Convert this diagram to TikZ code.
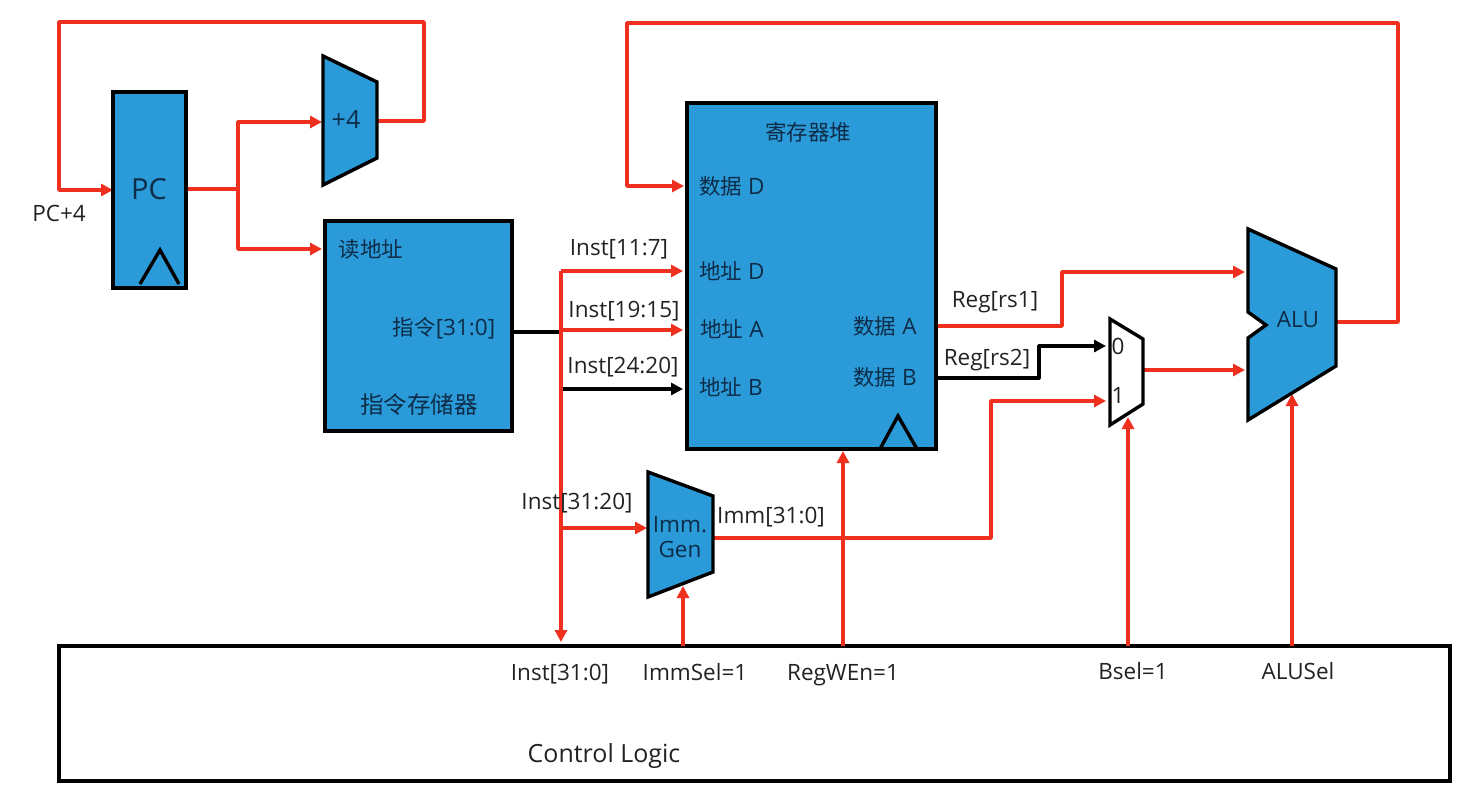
\documentclass[tikz,border=0pt]{standalone}
\usepackage{fontspec}
\setmainfont{Open Sans}
\newfontfamily\cjk{Noto Sans CJK SC}
\usetikzlibrary{arrows.meta}
\definecolor{blk}{HTML}{2A9BD8}
\definecolor{wire}{HTML}{F0301F}
\definecolor{ink}{HTML}{0E2C48}
\definecolor{lab}{HTML}{222222}
\newcommand{\zh}[1]{{\cjk\fontsize{21.5}{24}\selectfont #1}}
\tikzset{
  block/.style={draw=black,line width=3.4pt,fill=blk,inner sep=0pt,outer sep=0pt,anchor=north west},
  poly/.style={draw=black,line width=3.4pt,fill=blk,line join=miter},
  clock/.style={draw=black,line width=3.4pt,line join=miter},
  rw/.style={draw=wire,line width=3.5pt,line join=round},
  bw/.style={draw=black,line width=3.2pt,line join=round},
  tip/.style={-{Triangle[length=12pt,width=12pt]}},
  inner/.style={font=\fontsize{22.5}{26}\selectfont,text=ink,inner sep=0pt},
  outer/.style={font=\fontsize{22.5}{26}\selectfont,text=lab,inner sep=0pt},
}
\begin{document}
\begin{tikzpicture}[x=1pt,y=-1pt]
\useasboundingbox (0,0) rectangle (1478,807);
% control logic
\node[block,fill=white,minimum width=1391pt,minimum height=135pt] (ctl) at (59,646) {};
% ports
\coordinate (pcin) at (113,190);
\coordinate (pcout) at (186,189);
\coordinate (pcsplit) at (238,189);
\coordinate (addin) at (322,122);
\coordinate (addinc) at (238,122);
\coordinate (addout) at (377,121);
\coordinate (loopa) at (424,121);
\coordinate (loopb) at (424,22);
\coordinate (loopc) at (59,22);
\coordinate (loopd) at (59,190);
\coordinate (memin) at (322,249);
\coordinate (meminc) at (238,249);
\coordinate (memout) at (512,332);
\coordinate (bus) at (561,332);
\coordinate (bustop) at (561,271);
\coordinate (busend) at (561,642);
\coordinate (rdin) at (683,271);
\coordinate (rs1in) at (683,330);
\coordinate (rs1c) at (561,330);
\coordinate (rs2in) at (683,389);
\coordinate (rs2c) at (561,389);
\coordinate (immc) at (561,528);
\coordinate (immin) at (647,528);
\coordinate (immout) at (713,538);
\coordinate (imma) at (991,538);
\coordinate (immb) at (991,401);
\coordinate (mux1) at (1106,401);
\coordinate (rfa) at (936,326);
\coordinate (rfaa) at (1062,326);
\coordinate (rfab) at (1062,272);
\coordinate (alua) at (1245,272);
\coordinate (rfb) at (936,378);
\coordinate (rfba) at (1039,378);
\coordinate (rfbb) at (1039,346);
\coordinate (mux0) at (1106,346);
\coordinate (muxout) at (1143,370);
\coordinate (alub) at (1245,370);
\coordinate (aluout) at (1336,322);
\coordinate (wba) at (1398,322);
\coordinate (wbb) at (1398,23);
\coordinate (wbc) at (627,23);
\coordinate (wbd) at (627,186);
\coordinate (rddin) at (684,186);
\coordinate (immselb) at (683,646);
\coordinate (immselt) at (683,586);
\coordinate (regwenb) at (843,646);
\coordinate (regwent) at (843,451);
\coordinate (bselb) at (1128,646);
\coordinate (bselt) at (1128,417);
\coordinate (alusb) at (1292,646);
\coordinate (alust) at (1292,394);
% wires
\draw[rw,tip] (addout) -- (loopa) -- (loopb) -- (loopc) -- (loopd) -- (pcin);
\draw[rw] (pcout) -- (pcsplit);
\draw[rw,tip] (pcsplit) -- (addinc) -- (addin);
\draw[rw,tip] (pcsplit) -- (meminc) -- (memin);
\draw[bw] (memout) -- (bus);
\draw[bw,tip] (rs2c) -- (rs2in);
\draw[rw,tip] (bustop) -- (busend);
\draw[rw,tip] (bustop) -- (rdin);
\draw[rw,tip] (rs1c) -- (rs1in);
\draw[rw,tip] (immc) -- (immin);
\draw[rw,tip] (immout) -- (imma) -- (immb) -- (mux1);
\draw[rw,tip] (rfa) -- (rfaa) -- (rfab) -- (alua);
\draw[bw,tip] (rfb) -- (rfba) -- (rfbb) -- (mux0);
\draw[rw,tip] (muxout) -- (alub);
\draw[rw,tip] (aluout) -- (wba) -- (wbb) -- (wbc) -- (wbd) -- (rddin);
\draw[rw,tip] (immselb) -- (immselt);
\draw[rw,tip] (regwenb) -- (regwent);
\draw[rw,tip] (bselb) -- (bselt);
\draw[rw,tip] (alusb) -- (alust);
% blocks
\node[block,minimum width=73pt,minimum height=196pt] (pc) at (113,92) {};
\draw[clock] (140,284) -- (160,250) -- (179,284);
\node[block,minimum width=187pt,minimum height=210pt] (imem) at (325,221) {};
\node[block,minimum width=249pt,minimum height=346pt] (rf) at (687,103) {};
\draw[clock] (880,449) -- (898,416) -- (917,449);
\draw[poly] (323,56) -- (377,82) -- (377,158) -- (323,185) -- cycle;
\draw[poly] (648,472) -- (713,496) -- (713,572) -- (648,597) -- cycle;
\draw[poly,fill=white] (1110,319) -- (1143,339) -- (1143,404) -- (1110,425) -- cycle;
\draw[poly] (1248,229) -- (1336,269) -- (1336,366) -- (1248,420) -- (1248,338) -- (1266,325) -- (1248,312) -- cycle;
% texts
\node[inner,font=\fontsize{29}{32}\selectfont] (tpc) at (149,189) {PC};
\node[inner,font=\fontsize{25}{28}\selectfont] (tadd) at (346,120) {+4};
\node[outer] (tpc4) at (59,213) {PC+4};
\node[inner] (traddr) at (371,249) {\zh{读地址}};
\node[inner] (tinst) at (444,328) {\zh{指令}[31:0]};
\node[inner] (tim) at (419,405) {{\cjk\fontsize{23.5}{26}\selectfont 指令存储器}};
\node[inner] (trf) at (808,132) {\zh{寄存器堆}};
\node[inner] (tdd) at (732,186) {\zh{数据} D};
\node[inner] (tad) at (732,271) {\zh{地址} D};
\node[inner] (taa) at (732,329) {\zh{地址} A};
\node[inner] (tab) at (731,387) {\zh{地址} B};
\node[inner] (tda) at (885,326) {\zh{数据} A};
\node[inner] (tdb) at (885,377) {\zh{数据} B};
\node[outer] (ti117) at (619,249) {Inst[11:7]};
\node[outer] (ti1915) at (624,311) {Inst[19:15]};
\node[outer] (ti2420) at (623,367) {Inst[24:20]};
\node[outer] (ti3120) at (577,503) {Inst[31:20]};
\node[outer] (timm) at (771,517) {Imm[31:0]};
\node[inner,align=center,font=\fontsize{22.5}{25}\selectfont] (tgen) at (680,537) {Imm.\\Gen};
\node[outer] (trs1) at (995,302) {Reg[rs1]};
\node[outer] (trs2) at (987,360) {Reg[rs2]};
\node[outer] (tm0) at (1118,346) {0};
\node[outer] (tm1) at (1118,395) {1};
\node[inner] (talu) at (1298,320) {ALU};
\node[outer] (ti310) at (560,674) {Inst[31:0]};
\node[outer] (tis) at (695,672) {ImmSel=1};
\node[outer] (trw) at (843,675) {RegWEn=1};
\node[outer] (tbs) at (1133,671) {Bsel=1};
\node[outer] (tas) at (1298,671) {ALUSel};
\node[outer,font=\fontsize{25}{28}\selectfont] (tcl) at (604,756) {Control Logic};
\end{tikzpicture}
\end{document}
